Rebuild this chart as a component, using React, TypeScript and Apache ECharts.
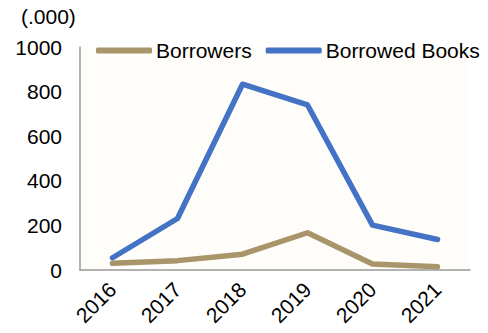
import React, { useEffect, useRef } from "react";
import * as echarts from "echarts";

const categories = ["2016", "2017", "2018", "2019", "2020", "2021"];
const borrowers = [30, 42, 71, 167, 27, 15];
const borrowedBooks = [55, 231, 833, 740, 201, 137];
const seriesNames = ["Borrowers", "Borrowed Books"];
const unitLabel = "(.000)";

export default function App() {
  const ref = useRef<HTMLDivElement>(null);
  useEffect(() => {
    if (!ref.current) return;
    const chart = echarts.init(ref.current, null, { renderer: "svg" });
    const font = "Liberation Sans, Arial, sans-serif";
    chart.setOption({
      animation: false,
      backgroundColor: "#ffffff",
      title: {
        text: unitLabel,
        left: 21,
        top: 6,
        padding: 0,
        textStyle: { fontFamily: font, fontSize: 21, fontWeight: "normal", color: "#000" },
      },
      legend: {
        left: 96,
        top: 40,
        padding: 0,
        itemWidth: 56,
        itemHeight: 6,
        itemGap: 14,
        icon: "roundRect",
        textStyle: { fontFamily: font, fontSize: 21, color: "#000", padding: [0, 0, 0, -1] },
        data: seriesNames,
      },
      grid: {
        left: 80,
        right: 18,
        top: 47,
        bottom: 63,
        show: true,
        backgroundColor: "#fffdf9",
        borderWidth: 0,
      },
      xAxis: {
        type: "category",
        data: categories,
        boundaryGap: true,
        axisLine: { show: true, lineStyle: { color: "#999", width: 1.5 } },
        axisTick: { show: false },
        axisLabel: {
          rotate: 45,
          margin: 16,
          fontFamily: font,
          fontSize: 21,
          color: "#000",
        },
      },
      yAxis: {
        type: "value",
        min: 0,
        max: 1000,
        interval: 200,
        axisLine: { show: true, lineStyle: { color: "#999", width: 1.5 } },
        axisTick: { show: false },
        splitLine: { show: false },
        axisLabel: {
          margin: 18,
          fontFamily: font,
          fontSize: 21,
          color: "#000",
          formatter: (v: number) => String(v),
        },
      },
      series: [
        {
          name: seriesNames[0],
          type: "line",
          data: borrowers,
          symbol: "none",
          color: "#a8956a",
          lineStyle: { width: 5.5, color: "#a8956a", cap: "round", join: "round" },
        },
        {
          name: seriesNames[1],
          type: "line",
          data: borrowedBooks,
          symbol: "none",
          color: "#4472c4",
          lineStyle: { width: 5.5, color: "#4472c4", cap: "round", join: "round" },
        },
      ],
    });
    return () => chart.dispose();
  }, []);
  return <div ref={ref} style={{ width: 488, height: 333, position: "absolute", left: 0, top: 0 }} />;
}
